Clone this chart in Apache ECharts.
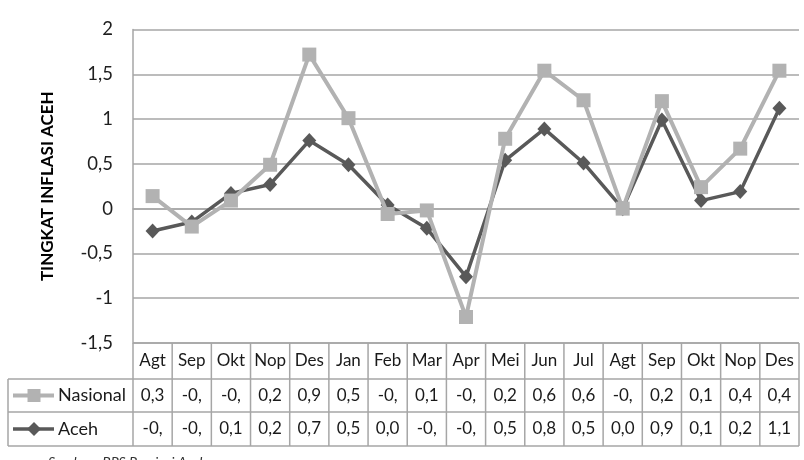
<!DOCTYPE html>
<html>
<head>
<meta charset="utf-8">
<script src="https://cdn.jsdelivr.net/npm/echarts@6/dist/echarts.min.js"></script>
<style>
html,body{margin:0;padding:0;background:#fff;}
#chart{width:804px;height:460px;}
</style>
</head>
<body>
<div id="chart"></div>
<script>
const categories = ['Agt','Sep','Okt','Nop','Des','Jan','Feb','Mar','Apr','Mei','Jun','Jul','Agt','Sep','Okt','Nop','Des'];
const nasional = [0.14,-0.20,0.09,0.49,1.72,1.01,-0.06,-0.02,-1.21,0.78,1.54,1.21,0.00,1.20,0.24,0.67,1.54];
const aceh = [-0.25,-0.15,0.17,0.27,0.76,0.49,0.04,-0.22,-0.76,0.54,0.89,0.51,0.00,0.99,0.09,0.19,1.12];
const nasionalTable = ['0,3','-0,','-0,','0,2','0,9','0,5','-0,','0,1','-0,','0,2','0,6','0,6','-0,','0,2','0,1','0,4','0,4'];
const acehTable = ['-0,','-0,','0,1','0,2','0,7','0,5','0,0','-0,','-0,','0,5','0,8','0,5','0,0','0,9','0,1','0,2','1,1'];
const yTitle = 'TINGKAT INFLASI ACEH';
const sourceText = 'Sumber : BPS Provinsi Aceh';

const FONT = 'Lato, "Open Sans", sans-serif';
const GRID = {left:133, right:5, top:29.5, bottom:117};
const LINE_COL = '#a6a6a6';
const NAS_COL = '#b2b2b2';
const ACEH_COL = '#595959';

const chart = echarts.init(document.getElementById('chart'), null, {renderer:'canvas'});
chart.setOption({
  animation:false,
  grid:{left:GRID.left, right:GRID.right, top:GRID.top, bottom:GRID.bottom, containLabel:false},
  xAxis:{type:'category', data:categories, boundaryGap:true,
    axisLine:{show:true, lineStyle:{color:LINE_COL, width:1.5}},
    axisTick:{show:false}, axisLabel:{show:false}, splitLine:{show:false}},
  yAxis:{type:'value', min:-1.5, max:2, interval:0.5,
    axisLine:{show:true, lineStyle:{color:LINE_COL, width:1.5}},
    axisTick:{show:false},
    axisLabel:{margin:20, fontFamily:FONT, fontSize:18.5, color:'#1f1f1f',
      formatter:v=>String(v).replace('.',',')},
    splitLine:{show:true, lineStyle:{color:LINE_COL, width:1.5}}},
  series:[
    {name:'Aceh', type:'line', data:aceh, symbol:'diamond', symbolSize:[14,15],
      lineStyle:{color:ACEH_COL, width:3.5}, itemStyle:{color:ACEH_COL}, z:2},
    {name:'Nasional', type:'line', data:nasional, symbol:'rect', symbolSize:14,
      lineStyle:{color:NAS_COL, width:4}, itemStyle:{color:NAS_COL}, z:3}
  ]
});

// data table under the plot
const x0 = chart.convertToPixel({xAxisIndex:0}, 0);
const x1 = chart.convertToPixel({xAxisIndex:0}, 1);
const colW = x1 - x0;
const plotLeft = x0 - colW/2;
const plotRight = plotLeft + colW*categories.length;
const yBottom = chart.convertToPixel({yAxisIndex:0}, -1.5);
const rowTops = [yBottom, yBottom+36, yBottom+69, yBottom+103];
const legendLeft = 8;
const els = [];
const line = (xa,ya,xb,yb)=>els.push({type:'line', shape:{x1:xa,y1:ya,x2:xb,y2:yb}, style:{stroke:LINE_COL, lineWidth:1.5}, silent:true});
line(plotLeft, rowTops[0], plotRight, rowTops[0]);
line(legendLeft, rowTops[1], plotRight, rowTops[1]);
line(legendLeft, rowTops[2], plotRight, rowTops[2]);
line(legendLeft, rowTops[3], plotRight, rowTops[3]);
line(legendLeft, rowTops[1], legendLeft, rowTops[3]);
for (let i=0;i<=categories.length;i++){
  const x = plotLeft + i*colW;
  line(x, rowTops[0], x, rowTops[3]);
}
const txt = (s,x,y,opt)=>els.push(Object.assign({type:'text', x:x, y:y, silent:true,
  style:Object.assign({text:s, fill:'#1a1a1a', font:'17px '+FONT, align:'center', verticalAlign:'middle'}, opt||{})}));
categories.forEach((c,i)=>{
  const cx = plotLeft + (i+0.5)*colW;
  txt(c, cx, (rowTops[0]+rowTops[1])/2);
  txt(nasionalTable[i], cx, (rowTops[1]+rowTops[2])/2);
  txt(acehTable[i], cx, (rowTops[2]+rowTops[3])/2);
});
const ly1 = (rowTops[1]+rowTops[2])/2, ly2 = (rowTops[2]+rowTops[3])/2;
els.push({type:'line', shape:{x1:13,y1:ly1,x2:54,y2:ly1}, style:{stroke:NAS_COL, lineWidth:4}, silent:true});
els.push({type:'rect', shape:{x:34-6.5,y:ly1-6.5,width:13,height:13}, style:{fill:NAS_COL}, silent:true});
els.push({type:'line', shape:{x1:13,y1:ly2,x2:54,y2:ly2}, style:{stroke:ACEH_COL, lineWidth:3.5}, silent:true});
els.push({type:'polygon', shape:{points:[[34,ly2-7],[41,ly2],[34,ly2+7],[27,ly2]]}, style:{fill:ACEH_COL}, silent:true});
txt('Nasional', 58, ly1, {align:'left', font:'18px '+FONT});
txt('Aceh', 58, ly2, {align:'left', font:'18px '+FONT});
const yMid = (chart.convertToPixel({yAxisIndex:0}, 2) + yBottom)/2;
els.push({type:'text', x:48, y:yMid, rotation:Math.PI/2, silent:true,
  style:{text:yTitle, font:'bold 17px '+FONT, fill:'#000', align:'center', verticalAlign:'middle'}});
els.push({type:'text', x:48, y:455, silent:true,
  style:{text:sourceText, font:'italic 14px '+FONT, fill:'#333', align:'left', verticalAlign:'top'}});
chart.setOption({graphic:{elements:els}});
</script>
</body>
</html>
